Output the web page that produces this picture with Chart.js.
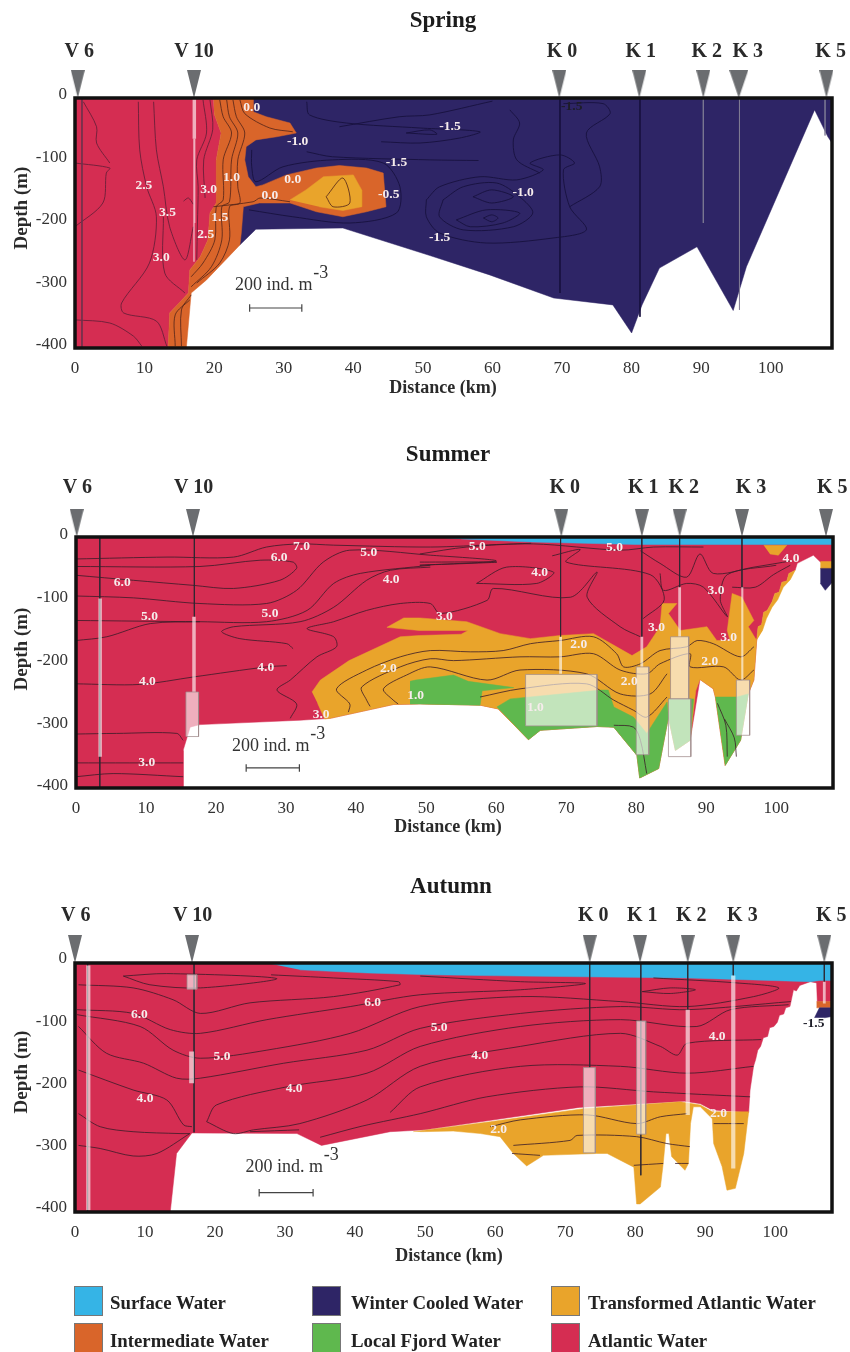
<!DOCTYPE html>
<html><head><meta charset="utf-8">
<script src="https://cdn.jsdelivr.net/npm/chart.js@4"></script>
<style>
html,body{margin:0;padding:0;background:#fff;width:850px;height:1352px;overflow:hidden}
#page{position:relative;width:850px;height:1352px;filter:blur(.45px)}
.panel{position:absolute;left:0;width:850px}
.sw{position:absolute;width:27px;height:28px;border:1px solid #777}
.lt{position:absolute;font:bold 18.8px "Liberation Serif",serif;color:#222;line-height:20px;white-space:nowrap}
</style></head><body><div id="page">
<div class="panel" style="top:0;height:400px"><canvas id="c0"></canvas></div>
<div class="panel" style="top:430px;height:410px"><canvas id="c1"></canvas></div>
<div class="panel" style="top:860px;height:410px"><canvas id="c2"></canvas></div>
</div>
<script>
const depthTicks=[0,-100,-200,-300,-400];
const distanceTicks=[0,10,20,30,40,50,60,70,80,90,100];
const stationNames=['V 6','V 10','K 0','K 1','K 2','K 3','K 5'];
const legendNames=['Surface Water','Intermediate Water','Winter Cooled Water','Local Fjord Water','Transformed Atlantic Water','Atlantic Water'];
const waterColors={surface:'#35b4e6',inter:'#d9652a',winter:'#2e2566',fjord:'#5fb84e',taw:'#e9a42b',atlantic:'#d52d52'};
const legendColors=[waterColors.surface,waterColors.inter,waterColors.winter,waterColors.fjord,waterColors.taw,waterColors.atlantic];

/* ---------- SPRING ---------- */
const springStations=[0.4,17.1,69.6,81.1,90.3,95.4,108];
const springStationLabels=[0.6,17.1,70,81.3,90.8,96.7,108.6];
const springLines=[[1,-400],[69.7,-312],[81.2,-350],[90.3,-200],[95.5,-339],[107.8,-60]];
const springBars=[[16.9,17.4,0,-65],[17,17.3,-65,-200],[17,17.2,-200,-262]];
const springAtlantic=[[0,0],[19.9,0],[20,-25],[21,-56],[20.3,-99],[20.3,-168],[19.4,-184],[19.1,-227],[18,-254],[16.5,-275],[16.3,-312],[13.6,-344],[13.4,-400],[0,-400]];
const springIntermediate=[[19.9,0],[25.6,0],[25.6,-22],[27.5,-30],[30.9,-40],[31.8,-56],[29,-62],[26,-67],[24.6,-78],[24.4,-99],[24.9,-126],[26,-142],[27,-139],[30.4,-123],[34.7,-112],[38,-108],[41.9,-112],[44.3,-120],[44.7,-174],[41.9,-182],[38.5,-190],[34.7,-182],[30.9,-168],[26.5,-168],[24.2,-174],[23.9,-216],[23.7,-235],[18.9,-291],[16.7,-312],[16,-400],[13.4,-400],[13.6,-344],[16.3,-312],[16.5,-275],[18,-254],[19.1,-227],[19.4,-184],[20.3,-168],[20.3,-99],[21,-56],[20,-25]];
const springTaw=[[30.9,-163],[33.2,-147],[35.7,-126],[40,-123],[41.2,-147],[41.2,-174],[38.5,-180],[35.1,-174]];
const springWinter=[[21,0],[108.8,0],[108.8,-72],[108.2,-62],[106.3,-19],[96.5,-270],[94.6,-340],[89.4,-238],[84,-272],[81.5,-331],[80,-376],[77.3,-331],[68.8,-320],[59.6,-283],[51,-252],[38.5,-208],[26,-210],[23.7,-235],[21,-230]];
const springRedContours=[
 [[0,-104],[5,-112],[4.5,-120],[4,-168],[0,-206]],
 [[1.2,-6],[3.1,-46],[3.1,-72],[5,-104]],
 [[0,-355],[5,-360],[8.4,-381],[9.6,-397]],
 [[9.1,-6],[9.3,-83],[10.3,-142],[11.7,-190],[10.7,-264],[6.7,-328],[7,-344],[11.7,-357],[13.2,-397]],
 [[11.3,-6],[11.7,-83],[12.7,-142],[13.6,-206],[15.8,-259],[17,-206]],
 [[12.7,-190],[12.9,-280],[15.8,-312]],
 [[15.6,-165],[16.3,-160],[17,-170]],
 [[18.4,-3],[18.9,-56],[17.5,-99],[17.7,-142],[17.6,-200],[17.5,-259]],
 [[19.4,-3],[19.8,-50],[18.5,-99],[18.7,-160]]];
const springOrangeContours=[
 [[20.8,-3],[21.3,-30],[22.5,-56],[21.3,-99],[21.3,-163],[20.3,-174],[20.1,-227],[18.4,-264],[16.7,-286]],
 [[21.8,-3],[22.2,-30],[23.4,-56],[22.5,-99],[22.2,-166],[21.1,-174],[21.1,-227],[19.6,-270],[16.7,-302]],
 [[22.7,-3],[23.2,-30],[24.4,-56],[23.4,-99],[23.4,-142],[23.7,-168],[22.2,-174],[22.2,-227],[20.8,-264],[17.5,-296]],
 [[23.7,-3],[24.4,-25],[28,-48],[31.3,-54]],
 [[19.9,-174],[25.6,-166],[26.6,-160],[30.9,-166]],
 [[14.4,-397],[14.4,-347],[16.5,-323]],
 [[15.3,-397],[15.3,-339],[16.7,-315]],
 [[36.1,-158],[38.5,-128],[39.5,-168],[37.1,-174],[36.1,-158]]];
const springWinterContours=[
 [[25.4,-83],[25.4,-110],[26,-134],[29.9,-110],[37,-99],[44.3,-104],[46.7,-142],[46.2,-184],[39.5,-200],[31.3,-190],[25,-179]],
 [[50.5,-163],[52.4,-142],[58.2,-126],[63.5,-131],[67.3,-115],[65.4,-104],[69.7,-91],[71.8,-104],[70.2,-115],[71.1,-174],[73.5,-211],[68.7,-224],[59.1,-232],[52.4,-216],[50.5,-190],[50.5,-163]],
 [[52.9,-163],[55.8,-142],[60.6,-136],[63.9,-158],[65.8,-184],[63,-206],[55.8,-211],[52.4,-190],[52.9,-163]],
 [[57.2,-158],[59.9,-147],[63,-158],[59.9,-168],[57.2,-158]],
 [[54.8,-195],[59.1,-179],[63.9,-184],[61.5,-200],[56.8,-206],[54.8,-195]],
 [[58.7,-192],[59.9,-187],[60.8,-192],[59.9,-198],[58.7,-192]],
 [[62.5,-19],[63.9,-40],[63,-67],[63.5,-99],[66.8,-120]],
 [[70.2,-9],[75.9,-9],[76.9,-25],[73.5,-56],[75.4,-110],[75.4,-142],[71.1,-174]],
 [[38,-46],[46.6,-30],[51,-27],[60,-5]],
 [[33.3,-6],[33.7,-27],[39,-40],[49.6,-48],[58.2,-54],[55.3,-64],[49.6,-72],[44,-70]],
 [[33.3,-86],[37,-94],[51,-99],[58,-100]],
 [[47.6,-56],[51,-51],[52,-58],[47.6,-56]]];
const springLabels=[[9.9,-140,'2.5'],[13.3,-184,'3.5'],[12.4,-256,'3.0'],[19.2,-147,'3.0'],[18.8,-218,'2.5'],[20.8,-191,'1.5'],[22.5,-127,'1.0'],[25.4,-15,'0.0'],[32,-69,'-1.0'],[31.3,-131,'0.0'],[28,-156,'0.0'],[45.1,-154,'-0.5'],[46.2,-103,'-1.5'],[53.9,-46,'-1.5'],[64.4,-152,'-1.0'],[52.4,-223,'-1.5']];
const springDarkLabels=[[71.4,-14,'-1.5']];
const springScaleBar=[25.1,32.6,-336];

/* ---------- SUMMER ---------- */
const summerStations=[0.1,16.7,69.3,80.8,86.2,95.1,107.1];
const summerStationLabels=[0.2,16.8,69.8,81,86.8,96.4,108];
const summerLines=[[3.4,-400],[16.9,-127],[69.2,-159],[80.8,-159],[86.2,-80],[95.1,-80]];
const summerBars=[[3.2,3.7,-98,-350],[16.6,17.1,-127,-247],[15.7,17.5,-247,-318],[69,69.4,-159,-218],[64.2,74.4,-219,-301],[80.6,81,-159,-207],[80,81.8,-207,-347],[86,86.4,-80,-159],[84.9,87.5,-159,-258],[84.6,87.8,-258,-350],[95,95.3,-80,-228],[94.3,96.2,-228,-316]];
const summerSurface=[[50,0],[108.1,0],[108.1,-12],[80,-12],[65,-8],[55,-3]];
const summerAtlantic=[[0,0],[108.1,0],[108.1,-40],[106.3,-40],[105.3,-29],[103,-42],[102.7,-53],[101.8,-58],[101.5,-70],[100.8,-72],[100.4,-88],[99.8,-90],[99.4,-103],[98.7,-117],[98.2,-120],[97.9,-140],[97.4,-143],[97.2,-165],[96.8,-228],[96,-250],[94.9,-324],[92.7,-364],[91.3,-255],[91,-242],[89.1,-227],[87.7,-324],[85.6,-340],[84.6,-287],[83.2,-369],[80.5,-384],[80.1,-348],[76.8,-303],[74.4,-302],[66.3,-308],[64.6,-323],[60.3,-274],[57.7,-268],[49.1,-266],[45.3,-267],[36.3,-289],[32,-292],[17.7,-299],[16.3,-303],[15.3,-340],[15.3,-400],[0,-400]];
const summerTaw=[[33.7,-247],[34.9,-228],[39,-197],[46.3,-159],[49,-157],[55,-155],[56,-149],[49,-149],[44.4,-144],[46.8,-129],[49.1,-129],[55.8,-135],[60.6,-154],[64.9,-162],[69.1,-157],[73.9,-154],[77.2,-175],[79.4,-189],[81.5,-175],[83.4,-143],[83.7,-106],[85.8,-106],[84.6,-122],[86.3,-149],[90.1,-143],[91.5,-165],[93.4,-165],[93,-149],[93.7,-90],[95.1,-96],[96.8,-133],[96,-143],[97.2,-165],[96.8,-228],[96,-250],[94.9,-324],[92.7,-364],[91.3,-255],[91,-242],[89.1,-227],[88.5,-245],[87.7,-324],[85.6,-340],[84.6,-287],[83.2,-369],[80.5,-384],[80.1,-348],[76.8,-303],[74.4,-302],[66.3,-308],[64.6,-323],[60.3,-274],[57.7,-268],[49.1,-266],[45.3,-267],[36.3,-289],[35.5,-290],[34.5,-265]];
const summerTawShore=[[97.2,-165],[97.4,-143],[97.9,-140],[98.2,-120],[98.7,-117],[99.4,-103],[99.8,-90],[100.4,-88],[100.8,-72],[101.5,-70],[101.8,-58],[102.7,-53],[102,-68],[101,-80],[100.2,-100],[99.4,-112],[98.6,-130],[98,-150]];
const summerTawPatch=[[98.2,-13],[101.5,-13],[100.3,-29],[99.1,-27]];
const summerTawPool=[[106.3,-39],[108.1,-39],[108.1,-51],[106.3,-51]];
const summerWinterPool=[[106.3,-50],[108.1,-50],[108,-72],[107,-85],[106.3,-74]];
const summerFjord=[
 [[47.7,-230],[48.5,-228],[53.9,-220],[56,-230],[62.5,-240],[58,-245],[57.7,-268],[49.1,-266],[47.7,-266]],
 [[60.1,-271],[62,-258],[74.9,-244],[76,-244],[76.8,-271],[79.6,-287],[81.5,-313],[84.4,-263],[84.6,-287],[83.2,-369],[80.5,-384],[80.1,-348],[76.8,-303],[74.4,-302],[66.3,-308],[64.6,-323]],
 [[84.6,-258],[88.2,-258],[87.7,-324],[85.6,-340],[84.6,-287]],
 [[91.3,-255],[94.4,-255],[96,-250],[94.9,-324],[92.7,-364]]];
const summerContours=[
 [[0,-35],[13,-32],[22.5,-32],[27.2,-16],[32,-11],[36.8,-13],[50.6,-16],[60,-12],[65,-10]],
 [[0,-47],[17.7,-47],[26.3,-37],[31,-40],[31.5,-50],[29.1,-69],[22.5,-82],[16.7,-77],[8.2,-69],[0,-61]],
 [[0,-94],[8.2,-97],[17.7,-106],[27.2,-106],[31.5,-85],[35.3,-40],[39.1,-21],[50.6,-29],[60,-38],[49.1,-45]],
 [[0,-133],[17.7,-135],[27.2,-135],[33,-117],[36.8,-74],[40.6,-58],[50.6,-45]],
 [[0,-165],[4.4,-159],[10.6,-138],[17.7,-135]],
 [[31,-178],[30.1,-170],[23.4,-162],[20.8,-151],[22.5,-143],[32,-135],[36.8,-112],[41.5,-69],[44.9,-53],[50.6,-48]],
 [[0,-234],[9.1,-235],[16.8,-223],[27.2,-207],[30.1,-205]],
 [[30.6,-289],[31.5,-266],[28.7,-244],[30.6,-228],[34.4,-191],[37.2,-175],[36.8,-159],[33,-146],[36.8,-135],[41.5,-117],[46.3,-106],[50.6,-106],[52,-122],[58.7,-101],[59.6,-82],[70.6,-96],[74.4,-56],[73,-96],[77.7,-143],[80.6,-159]],
 [[0,-314],[5.8,-313],[14.4,-313],[15.3,-324]],
 [[0,-360],[15.3,-360]],
 [[0,-382],[5.3,-377],[15.3,-382]],
 [[38.9,-279],[39.1,-266],[37.2,-242],[41.5,-212],[46.3,-191],[50.6,-181],[56.3,-183],[61,-181],[64.9,-170],[69.1,-165],[73.9,-159],[77.2,-186],[78.2,-207],[80.6,-202],[83.4,-181],[87.2,-175],[88.7,-165],[91,-170],[94.9,-191],[96.8,-175]],
 [[42,-270],[41.5,-260],[40.8,-239],[46.3,-207],[50.6,-194],[53.9,-197],[63.4,-191],[69.1,-191],[73.9,-186],[77.7,-212],[81.5,-218],[83.4,-202],[87.7,-186],[87.7,-207],[92.5,-207],[94.9,-228],[96.8,-212]],
 [[46,-266],[45.3,-260],[43.9,-242],[47.2,-220],[50.6,-207],[58.7,-228],[63.4,-212],[72.9,-218],[77.7,-250],[82,-250],[84.4,-218]],
 [[57.7,-255],[63.4,-242],[72.9,-234],[76.8,-260],[79.6,-276],[81.5,-287],[84.4,-255]],
 [[76.8,-300],[79.6,-303],[80.6,-324],[81.5,-377]],
 [[49.1,-45],[60.1,-40],[49.1,-40]],
 [[57.2,-74],[61.5,-48],[68.2,-56],[65.8,-74],[57.2,-74]],
 [[80.6,-22],[83.4,-42],[87.2,-64],[89.1,-27],[91,-58],[96.8,-48],[102.2,-38]],
 [[49.1,-27],[55.8,-16],[65.3,-11],[77.7,-21],[82.5,-16],[89.6,-16]],
 [[83.4,-58],[83.9,-85],[87.2,-74],[89.6,-80],[93,-127],[92,-100],[93,-60],[100,-45]],
 [[68,-30],[72,-20],[70,-40],[82,-60],[84,-100],[81,-130]],
 [[93.7,-80],[97,-80],[99.6,-60],[102,-45]]];
const summerGreenContours=[[[92.6,-290],[94,-320],[94.3,-350]],[[91.6,-265],[92.8,-300],[93,-350]]];
const summerLabels=[[32.2,-15,'7.0'],[29,-32,'6.0'],[41.8,-24,'5.0'],[45,-68,'4.0'],[6.6,-72,'6.0'],[10.5,-126,'5.0'],[27.7,-122,'5.0'],[27.1,-208,'4.0'],[10.2,-230,'4.0'],[44.6,-209,'2.0'],[48.5,-252,'1.0'],[35,-283,'3.0'],[10.1,-360,'3.0'],[57.3,-15,'5.0'],[76.9,-17,'5.0'],[66.2,-57,'4.0'],[52.6,-126,'3.0'],[71.8,-171,'2.0'],[91.4,-86,'3.0'],[82.9,-144,'3.0'],[93.2,-160,'3.0'],[90.5,-198,'2.0'],[79,-231,'2.0'],[102.1,-35,'4.0'],[65.6,-272,'1.0']];
const summerScaleBar=[24.3,31.9,-368];

/* ---------- AUTUMN ---------- */
const autumnStations=[0,16.7,73.5,80.7,87.5,94,107];
const autumnStationLabels=[0.1,16.8,74,81,88,95.3,108];
const autumnLines=[[1.8,-400],[17,-272],[73.5,-168],[80.8,-341],[87.5,-75],[94,-20],[107,-30]];
const autumnBars=[[1.6,2.2,-4,-397],[16,17.4,-19,-42],[16.3,17,-142,-193],[72.6,74.3,-168,-305],[80.2,81.5,-93,-275],[87.2,87.8,-75,-244],[93.7,94.3,-20,-330],[106.8,107.2,-30,-65]];
const autumnSurface=[[27.4,0],[108.1,0],[108.1,-28],[106.4,-28],[105,-30],[87.4,-24],[63.6,-21],[50.7,-19],[41.7,-16],[32.1,-11]];
const autumnAtlantic=[[0,0],[108.1,0],[108.1,-62],[106,-62],[105.9,-32],[105,-30],[103.5,-36],[103,-45],[102.6,-43],[102.1,-70],[101.5,-72],[101.2,-82],[100.6,-84],[100.3,-95],[99.8,-102],[99.2,-104],[98.9,-118],[98.3,-120],[97.9,-134],[97.5,-140],[97.2,-155],[96.9,-166],[96.4,-204],[96.2,-240],[91,-236],[89.3,-226],[87,-222],[72,-232],[50,-268],[45,-271],[35.2,-293],[31.7,-274],[16.7,-273],[14.5,-306],[13.6,-400],[0,-400]];
const autumnTaw=[[48.3,-271],[59.3,-255],[72.6,-234],[86.4,-223],[89.3,-228],[91,-239],[96.2,-239],[95.5,-306],[94.3,-362],[93.1,-365],[92.4,-327],[91.2,-290],[91,-250],[89.3,-231],[88.3,-231],[87.9,-258],[87.6,-322],[87.1,-333],[85.2,-311],[84.8,-274],[84.4,-274],[84,-322],[83.6,-360],[80.7,-387],[80.2,-387],[79.8,-328],[76,-306],[74.5,-306],[66.9,-309],[64.5,-326],[62.6,-306],[60.7,-279],[57.9,-274],[54,-270],[49.3,-271]];
const autumnInterPool=[[105.9,-62],[108.1,-62],[108.1,-72],[105.9,-72]];
const autumnWinterPool=[[105.6,-88],[106.3,-72],[108.1,-72],[108.1,-86],[107,-88]];
const autumnContours=[
 [[6.9,-21],[13.1,-17],[28.8,-25],[17.9,-40],[10.7,-35],[6.9,-21]],
 [[0.5,-35],[8.3,-40],[14,-59],[17.9,-81],[25,-64],[36.9,-54],[46.4,-35],[46.2,-30],[36.9,-24],[28,-19]],
 [[0.3,-75],[8.3,-81],[13.6,-107],[17.9,-113],[27.4,-91],[39.3,-70],[49.3,-51],[63.6,-43],[72.9,-33],[63.6,-30],[49.3,-21]],
 [[0.3,-83],[9.3,-102],[14,-140],[17.9,-153],[27.4,-140],[39.3,-113],[49.3,-70],[63.6,-54],[77.9,-62],[87.4,-70],[96.9,-54],[100.5,-40],[94.5,-32],[82.6,-24]],
 [[0.5,-102],[4.5,-145],[9.8,-161],[14.5,-185],[17.9,-185],[29.8,-161],[41.7,-140],[49.3,-105],[63.6,-81],[77.9,-70],[87.4,-75],[102.2,-62]],
 [[0.5,-172],[8.3,-204],[13.1,-220],[15.5,-260],[16.7,-263]],
 [[18.8,-255],[20.2,-228],[30.2,-199],[41.7,-177],[49.3,-134],[63.6,-102],[77.9,-91],[88.8,-102],[93.6,-75],[101.9,-67]],
 [[18.8,-255],[22.6,-274],[25.5,-268],[32.1,-258],[41.7,-220],[49.3,-166],[63.6,-134],[77.9,-113],[83.6,-134],[86,-148],[87.4,-129],[98,-123]],
 [[45,-240],[49.3,-199],[63.6,-166],[77.9,-166],[87.4,-177],[96.9,-166]],
 [[35,-280],[41,-262],[49.3,-242],[58.8,-215],[72.1,-199],[82.6,-207],[96.4,-215]],
 [[0.5,-242],[3.6,-263],[8.3,-271],[15,-274],[16.4,-274]],
 [[0.5,-293],[3.6,-298],[8.3,-310],[11.7,-306],[16.4,-274]],
 [[25,-271],[32,-268]],
 [[81,-46],[85,-40],[88.6,-43],[85,-49],[81,-46]],
 [[59.3,-263],[63.6,-252],[73.1,-244],[80.2,-258],[83.6,-247],[87.4,-242]],
 [[62.6,-293],[70.7,-285],[71.7,-277],[80.2,-279],[84.5,-290],[87.8,-295]],
 [[91.2,-258],[95.5,-258]],
 [[62.4,-306],[66.4,-309]],
 [[79.8,-325],[84,-322]],
 [[85.7,-322],[87.6,-322]]];
const autumnLabels=[[9.2,-83,'6.0'],[21,-150,'5.0'],[10,-217,'4.0'],[31.3,-202,'4.0'],[42.5,-63,'6.0'],[52,-103,'5.0'],[57.8,-148,'4.0'],[91.7,-118,'4.0'],[60.5,-267,'2.0'],[91.9,-242,'2.0']];
const autumnDarkLabels=[[105.5,-98,'-1.5']];
const autumnScaleBar=[26.3,34,-369];

/* ---------- drawing helpers ---------- */
const SERIF='"Liberation Serif","Times New Roman",serif';
const pts=a=>a.map(([x,y])=>({x,y}));
const poly=(a,c)=>({data:pts(a),showLine:true,fill:'shape',backgroundColor:c,borderColor:c,borderWidth:.5,pointRadius:0,tension:0});
const contour=(a,c,w)=>({data:pts(a),showLine:true,fill:false,borderColor:c||'rgba(58,28,40,.8)',borderWidth:w||1,pointRadius:0,tension:.3});
const stationLine=([x,y],c)=>({data:pts([[x,0],[x,y]]),showLine:true,fill:false,borderColor:c||'rgba(45,40,50,.85)',borderWidth:1,pointRadius:0});
const barBox=([a,b,t,u])=>({data:pts([[a,t],[b,t],[b,u],[a,u],[a,t]]),showLine:true,fill:'shape',backgroundColor:'rgba(255,255,255,.62)',borderColor:(b-a)>1?'rgba(160,140,140,.75)':'rgba(255,255,255,0)',borderWidth:1,pointRadius:0,tension:0});
const scaleBar=([a,b,y])=>({data:pts([[a,y-6],[a,y+6],[a,y],[b,y],[b,y+6],[b,y-6]]),showLine:true,fill:false,borderColor:'#444',borderWidth:1.2,pointRadius:0,tension:0,clip:false});

const makeTriangle=w=>{const c=document.createElement('canvas');c.width=w;c.height=56;const g=c.getContext('2d');g.fillStyle='#6b6d70';g.beginPath();g.moveTo(0,0);g.lineTo(w,0);g.lineTo(w/2,28);g.closePath();g.fill();return c;};
const triangle=makeTriangle(14),wideTriangle=makeTriangle(19);
const stationMarks=(xs,wide)=>({data:xs.map(x=>({x,y:0})),showLine:false,pointStyle:xs.map((_,i)=>i===wide?wideTriangle:triangle),pointRadius:7,clip:false});

const textPlugin={id:'panelText',afterDraw(chart,_a,o){
  const g=chart.ctx,X=chart.scales.x,Y=chart.scales.y,A=chart.chartArea;
  g.save();
  g.strokeStyle='#111';g.lineWidth=3.5;g.strokeRect(A.left,A.top,A.right-A.left,A.bottom-A.top);
  g.textAlign='center';g.textBaseline='middle';
  const put=(t,x,y,font,col)=>{g.font=font;g.fillStyle=col;g.fillText(t,x,y);};
  put(o.title,o.titleX,o.titleY,'bold 23px '+SERIF,'#1c1c1c');
  stationNames.forEach((n,i)=>put(n,X.getPixelForValue(o.stationLabels[i]),o.stationY,'bold 20px '+SERIF,'#2a2a2a'));
  put('Distance (km)',o.xTitleX,o.xTitleY,'bold 18px '+SERIF,'#2a2a2a');
  g.save();g.translate(22,o.yTitleY);g.rotate(-Math.PI/2);put('Depth (m)',0,0,'bold 19px '+SERIF,'#2a2a2a');g.restore();
  o.labels.forEach(([x,y,t])=>put(t,X.getPixelForValue(x),Y.getPixelForValue(y),'bold 13.5px '+SERIF,'#f6ecec'));
  (o.darkLabels||[]).forEach(([x,y,t])=>put(t,X.getPixelForValue(x),Y.getPixelForValue(y),'bold 13.5px '+SERIF,'#1d1d28'));
  const [a,b,sy]=o.bar,sx=(X.getPixelForValue(a)+X.getPixelForValue(b))/2,py=Y.getPixelForValue(sy);
  put('200 ind. m',sx-2,py-o.textUp,'18px '+SERIF,'#333');
  put('-3',sx+45,py-o.textUp-12,'18px '+SERIF,'#333');
  g.restore();
}};

function panel(id,h,layout,ds,text){
  const cv=document.getElementById(id);
  new Chart(cv,{type:'scatter',data:{datasets:ds.slice().reverse()},plugins:[textPlugin],options:{
    responsive:false,animation:false,devicePixelRatio:1,
    layout:{padding:{left:0,top:layout.top,right:850-layout.right,bottom:0}},
    plugins:{legend:{display:false},tooltip:{enabled:false},panelText:text},
    scales:{
      x:{type:'linear',min:0,max:layout.xMax,position:'bottom',grid:{display:false},border:{display:false},
        afterFit:s=>{s.height=h-layout.bottom;},
        afterBuildTicks:s=>{s.ticks=distanceTicks.map(value=>({value}));},
        ticks:{font:{family:SERIF,size:17},color:'#333',padding:2,maxRotation:0,autoSkip:false}},
      y:{type:'linear',min:-400,max:0,position:'left',grid:{display:false},border:{display:false},
        afterFit:s=>{s.width=layout.left;},
        afterBuildTicks:s=>{s.ticks=depthTicks.map(value=>({value}));},
        ticks:{font:{family:SERIF,size:17,lineHeight:2*layout.tickLift/17},color:'#333',padding:0,autoSkip:false,callback:v=>[String(v),'']}}
    }}});
}
[['c0',400],['c1',410],['c2',410]].forEach(([id,h])=>{const c=document.getElementById(id);c.width=850;c.height=h;c.style.width='850px';c.style.height=h+'px';});

const lineNavy='rgba(24,18,64,.95)';
panel('c0',400,{left:75,right:832,top:98,bottom:348,xMax:108.8,tickLift:3},[
  poly(springWinter,waterColors.winter),
  poly(springAtlantic,waterColors.atlantic),
  poly(springIntermediate,waterColors.inter),
  poly(springTaw,waterColors.taw),
  ...springRedContours.map(c=>contour(c,'rgba(100,30,55,.85)')),
  ...springOrangeContours.map(c=>contour(c,'rgba(80,35,25,.8)')),
  ...springWinterContours.map(c=>contour(c,lineNavy)),
  ...springBars.map(barBox),
  ...springLines.map((l,i)=>stationLine(l,i===0?'rgba(110,50,75,.9)':i>2?'rgba(130,125,150,.7)':lineNavy)),
  scaleBar(springScaleBar),
  stationMarks(springStations,5)
],{title:'Spring',titleX:443,titleY:21,stationY:52,stationLabels:springStationLabels,xTitleX:443,xTitleY:388,yTitleY:208,labels:springLabels,darkLabels:springDarkLabels,bar:springScaleBar,textUp:23});

panel('c1',410,{left:76,right:833,top:107,bottom:358,xMax:108.1,tickLift:2},[
  poly(summerAtlantic,waterColors.atlantic),
  poly(summerTaw,waterColors.taw),
  poly(summerTawShore,waterColors.taw),
  poly(summerTawPatch,waterColors.taw),
  poly(summerTawPool,waterColors.taw),
  poly(summerWinterPool,waterColors.winter),
  ...summerFjord.map(f=>poly(f,waterColors.fjord)),
  poly(summerSurface,waterColors.surface),
  ...summerContours.map(c=>contour(c)),
  ...summerGreenContours.map(c=>contour(c)),
  ...summerLines.map(l=>stationLine(l)),
  ...summerBars.map(barBox),
  scaleBar(summerScaleBar),
  stationMarks(summerStations)
],{title:'Summer',titleX:448,titleY:25,stationY:58,stationLabels:summerStationLabels,xTitleX:448,xTitleY:397,yTitleY:219,labels:summerLabels,bar:summerScaleBar,textUp:22});

panel('c2',410,{left:75,right:832,top:103,bottom:352,xMax:108.1,tickLift:4},[
  poly(autumnAtlantic,waterColors.atlantic),
  poly(autumnTaw,waterColors.taw),
  poly(autumnInterPool,waterColors.inter),
  poly(autumnWinterPool,waterColors.winter),
  poly(autumnSurface,waterColors.surface),
  ...autumnContours.map(c=>contour(c)),
  ...autumnLines.map(l=>stationLine(l)),
  ...autumnBars.map(barBox),
  scaleBar(autumnScaleBar),
  stationMarks(autumnStations)
],{title:'Autumn',titleX:451,titleY:27,stationY:56,stationLabels:autumnStationLabels,xTitleX:449,xTitleY:396,yTitleY:212,labels:autumnLabels,darkLabels:autumnDarkLabels,bar:autumnScaleBar,textUp:25});

/* legend */
const page=document.getElementById('page');
const legendCols=[[74,110],[312,351],[551,588]],legendRows=[[1286,1303],[1323,1341]];
legendNames.forEach((n,i)=>{
  const col=legendCols[Math.floor(i/2)],row=legendRows[i%2];
  const s=document.createElement('div');s.className='sw';s.style.cssText=`left:${col[0]}px;top:${row[0]}px;background:${legendColors[i]}`;page.appendChild(s);
  const t=document.createElement('div');t.className='lt';t.textContent=n;t.style.cssText=`left:${col[1]}px;top:${row[1]-10}px`;page.appendChild(t);
});
</script></body></html>
